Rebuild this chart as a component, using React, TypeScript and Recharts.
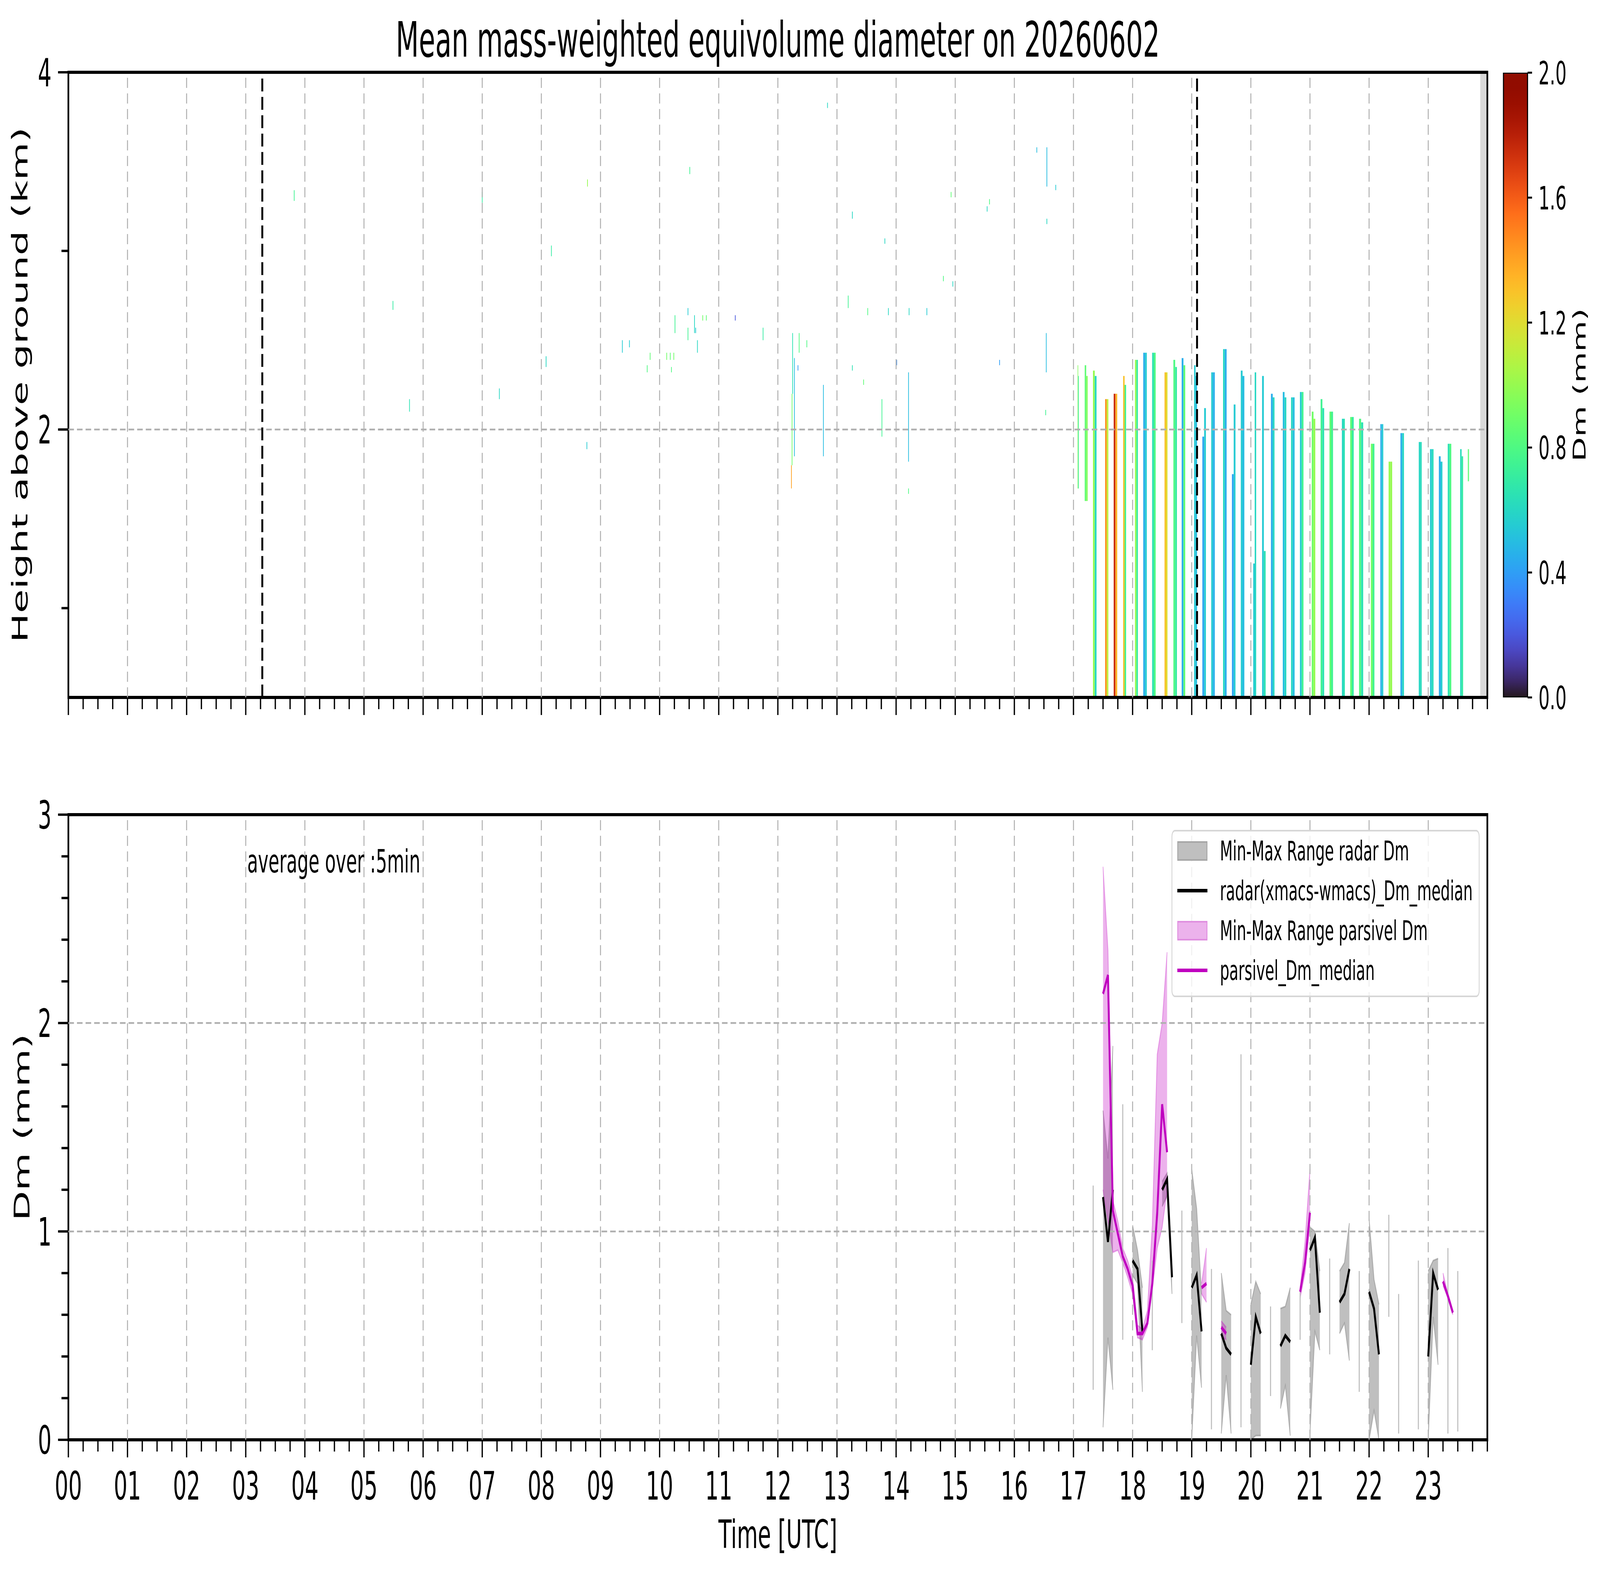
import React from 'react';
import { ComposedChart, XAxis, YAxis, Area, Bar, Line, ReferenceArea, ReferenceLine } from 'recharts';

// ---- top panel: radar Dm profiles (time in hours UTC, height in km, Dm in mm) ----
const stripStart = [17.07, 17.19, 17.33, 17.535, 17.68, 17.84, 18.04, 18.18, 18.33, 18.54, 18.69, 18.83, 19.04, 19.18, 19.33, 19.53, 19.68, 19.83, 20.04, 20.19, 20.34, 20.54, 20.68, 20.83, 21.03, 21.18, 21.33, 21.54, 21.68, 21.83, 22.03, 22.19, 22.33, 22.53, 22.84, 23.03, 23.18, 23.33, 23.54, 23.67];
const stripEnd = [17.09, 17.24, 17.39, 17.59, 17.74, 17.89, 18.09, 18.24, 18.39, 18.59, 18.75, 18.89, 19.09, 19.24, 19.39, 19.59, 19.74, 19.89, 20.09, 20.25, 20.40, 20.60, 20.74, 20.89, 21.09, 21.24, 21.39, 21.59, 21.74, 21.90, 22.09, 22.24, 22.39, 22.59, 22.89, 23.09, 23.24, 23.39, 23.59, 23.69];
const stripBase = [1.67, 1.6, 0.5, 0.5, 0.5, 0.5, 0.5, 0.5, 0.5, 0.5, 0.5, 0.5, 0.5, 0.5, 0.5, 0.5, 0.5, 0.5, 0.5, 0.5, 0.5, 0.5, 0.5, 0.5, 0.5, 0.5, 0.5, 0.5, 0.5, 0.5, 0.5, 0.5, 0.5, 0.5, 0.5, 0.5, 0.5, 0.5, 0.5, 1.71];
const stripTopA = [2.36, 2.36, 2.33, 2.17, 2.2, 2.3, 2.39, 2.43, 2.43, 2.32, 2.39, 2.4, 2.36, 1.96, 2.32, 2.45, 1.75, 2.33, 1.25, 2.3, 2.2, 2.21, 2.18, 2.21, 2.1, 2.17, 2.1, 2.06, 2.07, 2.06, 1.92, 2.03, 1.82, 1.98, 1.93, 1.89, 1.85, 1.92, 1.89, 1.89];
const stripTopB = [2.3, 2.3, 2.3, 2.17, 2.2, 2.25, 2.39, 2.43, 2.43, 2.32, 2.35, 2.36, 2.3, 2.12, 2.32, 2.45, 2.14, 2.3, 2.32, 1.32, 2.18, 2.18, 2.18, 2.21, 2.06, 2.12, 2.1, 2.06, 2.07, 2.04, 1.92, 2.03, 1.82, 1.98, 1.93, 1.89, 1.82, 1.92, 1.85, 1.89];
const stripDmA = [0.95, 0.85, 1.0, 1.45, 1.75, 1.3, 1.0, 0.45, 0.65, 1.3, 0.8, 0.45, 0.55, 0.42, 0.55, 0.6, 0.42, 0.55, 0.55, 0.55, 0.45, 0.5, 0.6, 0.55, 0.9, 0.75, 0.85, 0.6, 0.85, 0.8, 0.9, 0.45, 1.0, 0.45, 0.6, 0.55, 0.45, 0.65, 0.62, 0.85];
const stripDmB = [0.7, 0.95, 0.6, 1.1, 1.35, 0.75, 0.7, 0.55, 0.8, 1.2, 0.7, 0.85, 0.5, 0.55, 0.45, 0.45, 0.55, 0.5, 0.6, 0.65, 0.6, 0.6, 0.5, 0.75, 1.0, 0.65, 0.75, 0.65, 0.7, 0.65, 0.75, 0.55, 1.0, 0.6, 0.62, 0.62, 0.55, 0.8, 0.7, 0.85];

// isolated echoes
const speckHour = [3.82, 5.49, 5.77, 7.0, 7.29, 8.08, 8.17, 8.77, 8.78, 9.37, 9.49, 9.79, 9.84, 10.12, 10.18, 10.24, 10.2, 10.26, 10.48, 10.48, 10.51, 10.59, 10.61, 10.64, 10.73, 10.79, 11.28, 11.75, 12.23, 12.24, 12.25, 12.28, 12.34, 12.36, 12.49, 12.77, 12.84, 13.19, 13.26, 13.26, 13.45, 13.52, 13.76, 13.81, 13.87, 14.01, 14.21, 14.21, 14.22, 14.52, 14.8, 14.93, 14.96, 15.54, 15.58, 15.75, 16.38, 16.55, 16.55, 16.54, 16.53, 16.7];
const speckBase = [3.28, 2.67, 2.1, 3.27, 2.17, 2.35, 2.97, 1.89, 3.36, 2.43, 2.46, 2.32, 2.39, 2.39, 2.39, 2.39, 2.32, 2.54, 2.64, 2.5, 3.43, 2.54, 2.54, 2.43, 2.61, 2.61, 2.61, 2.5, 1.67, 1.8, 2.2, 1.85, 2.33, 2.43, 2.46, 1.85, 3.8, 2.68, 3.18, 2.33, 2.25, 2.64, 1.96, 3.04, 2.64, 2.36, 1.82, 1.64, 2.64, 2.64, 2.83, 3.3, 2.8, 3.22, 3.26, 2.36, 3.55, 3.36, 3.15, 2.32, 2.08, 3.34];
const speckTop = [3.34, 2.72, 2.17, 3.33, 2.23, 2.41, 3.03, 1.93, 3.4, 2.5, 2.5, 2.36, 2.43, 2.43, 2.43, 2.43, 2.35, 2.64, 2.68, 2.57, 3.47, 2.64, 2.57, 2.5, 2.64, 2.64, 2.64, 2.57, 1.8, 2.2, 2.54, 2.4, 2.36, 2.54, 2.5, 2.25, 3.83, 2.75, 3.22, 2.36, 2.28, 2.68, 2.17, 3.07, 2.68, 2.39, 2.32, 1.67, 2.68, 2.68, 2.86, 3.33, 2.83, 3.25, 3.29, 2.39, 3.58, 3.58, 3.18, 2.54, 2.11, 3.37];
const speckDm = [0.75, 0.7, 0.65, 0.7, 0.6, 0.6, 0.7, 0.55, 1.0, 0.55, 0.55, 0.8, 0.85, 0.9, 0.85, 0.9, 0.8, 0.75, 0.55, 0.75, 0.75, 0.6, 0.55, 0.6, 0.9, 0.85, 0.2, 0.7, 1.4, 0.9, 0.65, 0.5, 0.4, 0.8, 0.8, 0.5, 0.6, 0.75, 0.6, 0.65, 0.85, 0.8, 0.75, 0.6, 0.6, 0.35, 0.5, 0.8, 0.6, 0.55, 0.8, 0.85, 0.6, 0.6, 0.8, 0.4, 0.5, 0.5, 0.6, 0.5, 0.75, 0.55];

const markerHours = [3.28, 19.09];
const noDataFrom = 23.88;

// ---- bottom panel: 5 min statistics (time in minutes of day, Dm in mm) ----
const radarTime = [1050, 1055, 1060, 1080, 1085, 1090, 1110, 1115, 1120, 1140, 1145, 1150, 1170, 1175, 1180, 1200, 1205, 1210, 1230, 1235, 1240, 1260, 1265, 1270, 1290, 1295, 1300, 1320, 1325, 1330, 1380, 1385, 1390];
const radarMedian = [1.165, 0.95, 1.2, 0.86, 0.82, 0.52, 1.2, 1.25, 0.78, 0.73, 0.79, 0.52, 0.51, 0.44, 0.41, 0.36, 0.59, 0.51, 0.45, 0.5, 0.47, 0.91, 0.97, 0.61, 0.66, 0.7, 0.82, 0.71, 0.63, 0.41, 0.4, 0.8, 0.72];
const radarMin = [0.06, 0.49, 0.24, 0.79, 0.75, 0.23, 1.12, 1.17, 0.7, 0.0, 0.5, 0.25, 0.03, 0.31, 0.03, 0.0, 0.02, 0.02, 0.15, 0.26, 0.02, 0.03, 0.52, 0.43, 0.51, 0.56, 0.38, 0.0, 0.14, 0.0, 0.0, 0.59, 0.36];
const radarMax = [1.58, 1.35, 1.89, 1.03, 0.91, 0.73, 1.24, 1.28, 0.8, 1.3, 1.11, 0.7, 0.8, 0.62, 0.6, 0.65, 0.76, 0.7, 0.63, 0.64, 0.73, 1.02, 1.0, 0.81, 0.81, 0.85, 1.04, 1.06, 0.77, 0.65, 0.81, 0.86, 0.87];

const spikeTime = [1040, 1070, 1100, 1130, 1160, 1190, 1220, 1250, 1280, 1310, 1340, 1350, 1370, 1400, 1410];
const spikeMin = [0.24, 0.48, 0.43, 0.56, 0.05, 0.06, 0.21, 0.48, 0.41, 0.23, 0.59, 0.03, 0.05, 0.03, 0.04];
const spikeMax = [1.22, 1.61, 0.86, 1.1, 0.82, 1.85, 0.64, 0.71, 0.87, 0.81, 1.08, 0.7, 0.86, 0.92, 0.81];

const parsTime = [1050, 1055, 1060, 1065, 1070, 1075, 1080, 1085, 1090, 1095, 1100, 1105, 1110, 1115, 1150, 1155, 1170, 1175, 1250, 1255, 1260, 1395, 1400, 1405];
const parsMedian = [2.14, 2.23, 1.1, 0.99, 0.88, 0.82, 0.74, 0.51, 0.51, 0.56, 0.75, 1.09, 1.61, 1.38, 0.73, 0.75, 0.54, 0.51, 0.71, 0.85, 1.09, 0.76, 0.69, 0.61];
const parsMin = [1.2, 1.05, 0.9, 0.91, 0.85, 0.78, 0.7, 0.49, 0.48, 0.54, 0.72, 0.92, 1.02, 1.2, 0.7, 0.66, 0.5, 0.48, 0.68, 0.8, 1.03, 0.74, 0.68, 0.6];
const parsMax = [2.75, 2.35, 1.15, 1.05, 0.92, 0.86, 0.78, 0.55, 0.53, 0.62, 1.03, 1.85, 2.0, 2.34, 0.75, 0.92, 0.57, 0.54, 0.73, 0.95, 1.3, 0.8, 0.7, 0.62];

const hourTicks = [0, 1, 2, 3, 4, 5, 6, 7, 8, 9, 10, 11, 12, 13, 14, 15, 16, 17, 18, 19, 20, 21, 22, 23];
const heightTicks = [1, 2, 3, 4];
const heightLabels = [2, 4];
const dmTicks = [0, 0.2, 0.4, 0.6, 0.8, 1, 1.2, 1.4, 1.6, 1.8, 2, 2.2, 2.4, 2.6, 2.8, 3];
const cbarTicks = [0, 0.4, 0.8, 1.2, 1.6, 2.0];
const cbarRange = [0, 2];

const quarterTicks = Array.from({ length: 97 }, (_, i) => i / 4);

// figure is laid out at 7442x4031 and fitted to the window
const FIG_W = 7442;
const FIG_H = 4031;

// turbo colormap, 0..2 mm
function turbo(v: number) {
  const x = Math.min(1, Math.max(0, v / 2));
  const r = 0.13572138 + x * (4.6153926 + x * (-42.66032258 + x * (132.13108234 + x * (-152.94239396 + x * 59.28637943))));
  const g = 0.09140261 + x * (2.19418839 + x * (4.84296658 + x * (-14.18503333 + x * (4.27729857 + x * 2.82956604))));
  const b = 0.1066733 + x * (12.64194608 + x * (-60.58204836 + x * (110.36276771 + x * (-89.90310912 + x * 27.34824973))));
  const c = (t: number) => Math.round(255 * Math.min(1, Math.max(0, t)));
  return `rgb(${c(r)},${c(g)},${c(b)})`;
}

const cells = stripStart.flatMap((s, i) => {
  const mid = (s + stripEnd[i]) / 2;
  return [
    { x1: s, x2: mid, y1: stripBase[i], y2: stripTopA[i], dm: stripDmA[i] },
    { x1: mid, x2: stripEnd[i], y1: stripBase[i], y2: stripTopB[i], dm: stripDmB[i] },
  ];
});
const specks = speckHour.map((h, i) => ({ x1: h - 0.006, x2: h + 0.006, y1: speckBase[i], y2: speckTop[i], dm: speckDm[i] }));

const dmRows: any[] = [];
for (let m = 1030; m <= 1420; m += 5) {
  const ri = radarTime.indexOf(m);
  const pi = parsTime.indexOf(m);
  dmRows.push({
    hour: m / 60,
    radarRange: ri >= 0 ? [radarMin[ri], radarMax[ri]] : null,
    radarMedian: ri >= 0 ? radarMedian[ri] : null,
    parsRange: pi >= 0 ? [parsMin[pi], parsMax[pi]] : null,
    parsMedian: pi >= 0 ? parsMedian[pi] : null,
  });
}
const heightRows = stripStart.map((h) => ({ hour: h }));
const cbarRows = [{ name: 'Dm', range: cbarRange }];

const isWhole = (v: number) => Math.abs(v - Math.round(v)) < 1e-6;

const makeXTick = (labels: boolean) => (props: any) => {
  const { x, y, payload } = props;
  const v = payload.value;
  const major = isWhole(v) && v < 24;
  return (
    <g>
      <line x1={x} x2={x} y1={y} y2={y + (major ? 45 : 30)} stroke="#000" strokeWidth={6} />
      {labels && major ? (
        <text x={x} y={y + 153} textAnchor="middle" fontSize={100} fill="#000">
          {String(hourTicks[Math.round(v)]).padStart(2, '0')}
        </text>
      ) : null}
    </g>
  );
};

const makeYTick = (isLabeled: (v: number) => boolean) => (props: any) => {
  const { x, y, payload } = props;
  const v = payload.value;
  const major = isLabeled(v);
  return (
    <g>
      <line x1={x} x2={x - (major ? 48 : 32)} y1={y} y2={y} stroke="#000" strokeWidth={6} />
      {major ? (
        <text x={x - 78} y={y + 36} textAnchor="end" fontSize={100} fill="#000">
          {Math.round(v)}
        </text>
      ) : null}
    </g>
  );
};

const cbarTick = (props: any) => {
  const { x, y, payload } = props;
  return (
    <g>
      <line x1={x} x2={x + 21} y1={y} y2={y} stroke="#000" strokeWidth={5} />
      <text x={x + 51} y={y + 30} textAnchor="start" fontSize={82} fill="#000">
        {Number(payload.value).toFixed(1)}
      </text>
    </g>
  );
};

const gridStyle = { stroke: '#b0b0b0', strokeWidth: 4.5, strokeDasharray: '26 14' };

const legendItems = [
  { label: 'Min-Max Range radar Dm', kind: 'patch', fill: '#bfbfbf', edge: '#a6a6a6' },
  { label: 'radar(xmacs-wmacs)_Dm_median', kind: 'line', fill: '#000000', edge: '' },
  { label: 'Min-Max Range parsivel Dm', kind: 'patch', fill: '#ecb2ec', edge: '#df8edf' },
  { label: 'parsivel_Dm_median', kind: 'line', fill: '#bf00bf', edge: '' },
];

export default function App() {
  const sx = (typeof window !== 'undefined' ? window.innerWidth : FIG_W) / FIG_W;
  const sy = (typeof window !== 'undefined' ? window.innerHeight : FIG_H) / FIG_H;
  return (
    <div
      style={{
        position: 'absolute',
        left: 0,
        top: 0,
        width: FIG_W,
        height: FIG_H,
        background: '#fff',
        fontFamily: '"DejaVu Sans", sans-serif',
        overflow: 'hidden',
        transform: `scale(${sx}, ${sy})`,
        transformOrigin: '0 0',
      }}
    >
      {/* colormap gradient shared by the colorbar */}
      <svg width={0} height={0} style={{ position: 'absolute' }}>
        <defs>
          <linearGradient id="turboGrad" x1="0" y1="1" x2="0" y2="0">
            {Array.from({ length: 41 }, (_, k) => (
              <stop key={k} offset={`${(k / 40) * 100}%`} stopColor={turbo((k / 40) * 2)} />
            ))}
          </linearGradient>
        </defs>
      </svg>

      {/* Top panel: height-time Dm */}
      <div style={{ position: 'absolute', left: 0, top: 0 }}>
        <ComposedChart width={7442} height={1900} data={heightRows} margin={{ top: 185, right: 524, bottom: 85, left: 258 }}>
          <XAxis type="number" dataKey="hour" domain={[0, 24]} ticks={quarterTicks} interval={0} allowDataOverflow axisLine={false} tickLine={false} tickSize={0} tickMargin={0} height={30} tick={makeXTick(false)} />
          <YAxis type="number" domain={[0.5, 4]} ticks={heightTicks} interval={0} allowDataOverflow axisLine={false} tickLine={false} tickSize={0} tickMargin={0} width={60} tick={makeYTick((v) => heightLabels.includes(v))} />
          {cells.map((c, i) => (
            <ReferenceArea key={`c${i}`} x1={c.x1} x2={c.x2} y1={c.y1} y2={c.y2} fill={turbo(c.dm)} fillOpacity={1} stroke="none" />
          ))}
          {specks.map((c, i) => (
            <ReferenceArea key={`s${i}`} x1={c.x1} x2={c.x2} y1={c.y1} y2={c.y2} fill={turbo(c.dm)} fillOpacity={1} stroke="none" />
          ))}
          <ReferenceArea x1={noDataFrom} x2={24} y1={0.5} y2={4} fill="#d9d9d9" fillOpacity={1} stroke="none" />
          {hourTicks.slice(1).map((h) => (
            <ReferenceLine key={`gx${h}`} x={h} {...gridStyle} />
          ))}
          <ReferenceLine y={2} {...gridStyle} />
          {markerHours.map((h) => (
            <ReferenceLine key={`m${h}`} x={h} stroke="#000" strokeWidth={9} strokeDasharray="33 14" />
          ))}
          <ReferenceArea x1={0} x2={24} y1={0.5} y2={4} fill="none" fillOpacity={0} stroke="#000" strokeWidth={8} ifOverflow="visible" />
        </ComposedChart>
      </div>

      {/* Colorbar */}
      <div style={{ position: 'absolute', left: 6900, top: 0 }}>
        <ComposedChart width={542} height={1900} data={cbarRows} margin={{ top: 186, right: 277, bottom: 85, left: 93 }} barCategoryGap={0} barGap={0}>
          <XAxis type="category" dataKey="name" axisLine={false} tickLine={false} tick={false} height={30} />
          <YAxis orientation="right" type="number" domain={[0, 2]} ticks={cbarTicks} interval={0} allowDataOverflow axisLine={false} tickLine={false} tickSize={0} tickMargin={0} width={60} tick={cbarTick} />
          <Bar dataKey="range" fill="url(#turboGrad)" stroke="#000" strokeWidth={5} isAnimationActive={false} />
        </ComposedChart>
      </div>

      {/* Bottom panel: Dm time series */}
      <div style={{ position: 'absolute', left: 0, top: 1950 }}>
        <ComposedChart width={7442} height={2081} data={dmRows} margin={{ top: 135, right: 524, bottom: 316, left: 258 }}>
          <XAxis type="number" dataKey="hour" domain={[0, 24]} ticks={quarterTicks} interval={0} allowDataOverflow axisLine={false} tickLine={false} tickSize={0} tickMargin={0} height={30} tick={makeXTick(true)} />
          <YAxis type="number" domain={[0, 3]} ticks={dmTicks} interval={0} allowDataOverflow axisLine={false} tickLine={false} tickSize={0} tickMargin={0} width={60} tick={makeYTick(isWhole)} />
          {hourTicks.slice(1).map((h) => (
            <ReferenceLine key={`gx${h}`} x={h} {...gridStyle} />
          ))}
          <ReferenceLine y={1} {...gridStyle} />
          <ReferenceLine y={2} {...gridStyle} />
          <Area type="linear" dataKey="radarRange" fill="#808080" fillOpacity={0.5} stroke="#808080" strokeOpacity={0.5} strokeWidth={4} dot={false} activeDot={false} isAnimationActive={false} />
          {spikeTime.map((t, i) => (
            <ReferenceLine key={`sp${t}`} segment={[{ x: t / 60, y: spikeMin[i] }, { x: t / 60, y: spikeMax[i] }]} stroke="#bfbfbf" strokeWidth={5} />
          ))}
          <Line type="linear" dataKey="radarMedian" stroke="#000" strokeWidth={9} dot={false} activeDot={false} isAnimationActive={false} />
          <Area type="linear" dataKey="parsRange" fill="#bf00bf" fillOpacity={0.3} stroke="#bf00bf" strokeOpacity={0.3} strokeWidth={4} dot={false} activeDot={false} isAnimationActive={false} />
          <Line type="linear" dataKey="parsMedian" stroke="#bf00bf" strokeWidth={9} dot={false} activeDot={false} isAnimationActive={false} />
          <ReferenceArea x1={0} x2={24} y1={0} y2={3} fill="none" fillOpacity={0} stroke="#000" strokeWidth={8} ifOverflow="visible" />
        </ComposedChart>
      </div>

      {/* Legend */}
      <div
        style={{
          position: 'absolute',
          left: 5449,
          top: 2124,
          width: 1433,
          height: 428,
          boxSizing: 'border-box',
          border: '4px solid #d6d6d6',
          borderRadius: 16,
          background: 'rgba(255,255,255,0.8)',
        }}
      >
        {legendItems.map((it, i) => {
          const cy = 50 + i * 102;
          return (
            <div key={it.label}>
              {it.kind === 'patch' ? (
                <div style={{ position: 'absolute', left: 23, top: cy - 25, width: 140, height: 50, boxSizing: 'border-box', background: it.fill, border: `4px solid ${it.edge}` }} />
              ) : (
                <div style={{ position: 'absolute', left: 23, top: cy - 5, width: 140, height: 9, background: it.fill }} />
              )}
              <div style={{ position: 'absolute', left: 221, top: cy - 42, fontSize: 69, lineHeight: '84px', whiteSpace: 'nowrap', color: '#000' }}>
                {it.label}
              </div>
            </div>
          );
        })}
      </div>

      {/* Titles and labels */}
      <svg width={FIG_W} height={FIG_H} style={{ position: 'absolute', left: 0, top: 0, pointerEvents: 'none' }}>
        <text x={3618} y={145} textAnchor="middle" fontSize={124} fill="#000">
          Mean mass-weighted equivolume diameter on 20260602
        </text>
        <text x={128} y={985} transform="rotate(-90 128 985)" textAnchor="middle" fontSize={100} fill="#000">
          Height above ground (km)
        </text>
        <text x={136} y={2885} transform="rotate(-90 136 2885)" textAnchor="middle" fontSize={100} fill="#000">
          Dm (mm)
        </text>
        <text x={3618} y={3962} textAnchor="middle" fontSize={100} fill="#000">
          Time [UTC]
        </text>
        <text x={7375} y={985} transform="rotate(-90 7375 985)" textAnchor="middle" fontSize={82} fill="#000">
          Dm (mm)
        </text>
        <text x={1150} y={2233} textAnchor="start" fontSize={82} fill="#000">
          average over :5min
        </text>
      </svg>
    </div>
  );
}
